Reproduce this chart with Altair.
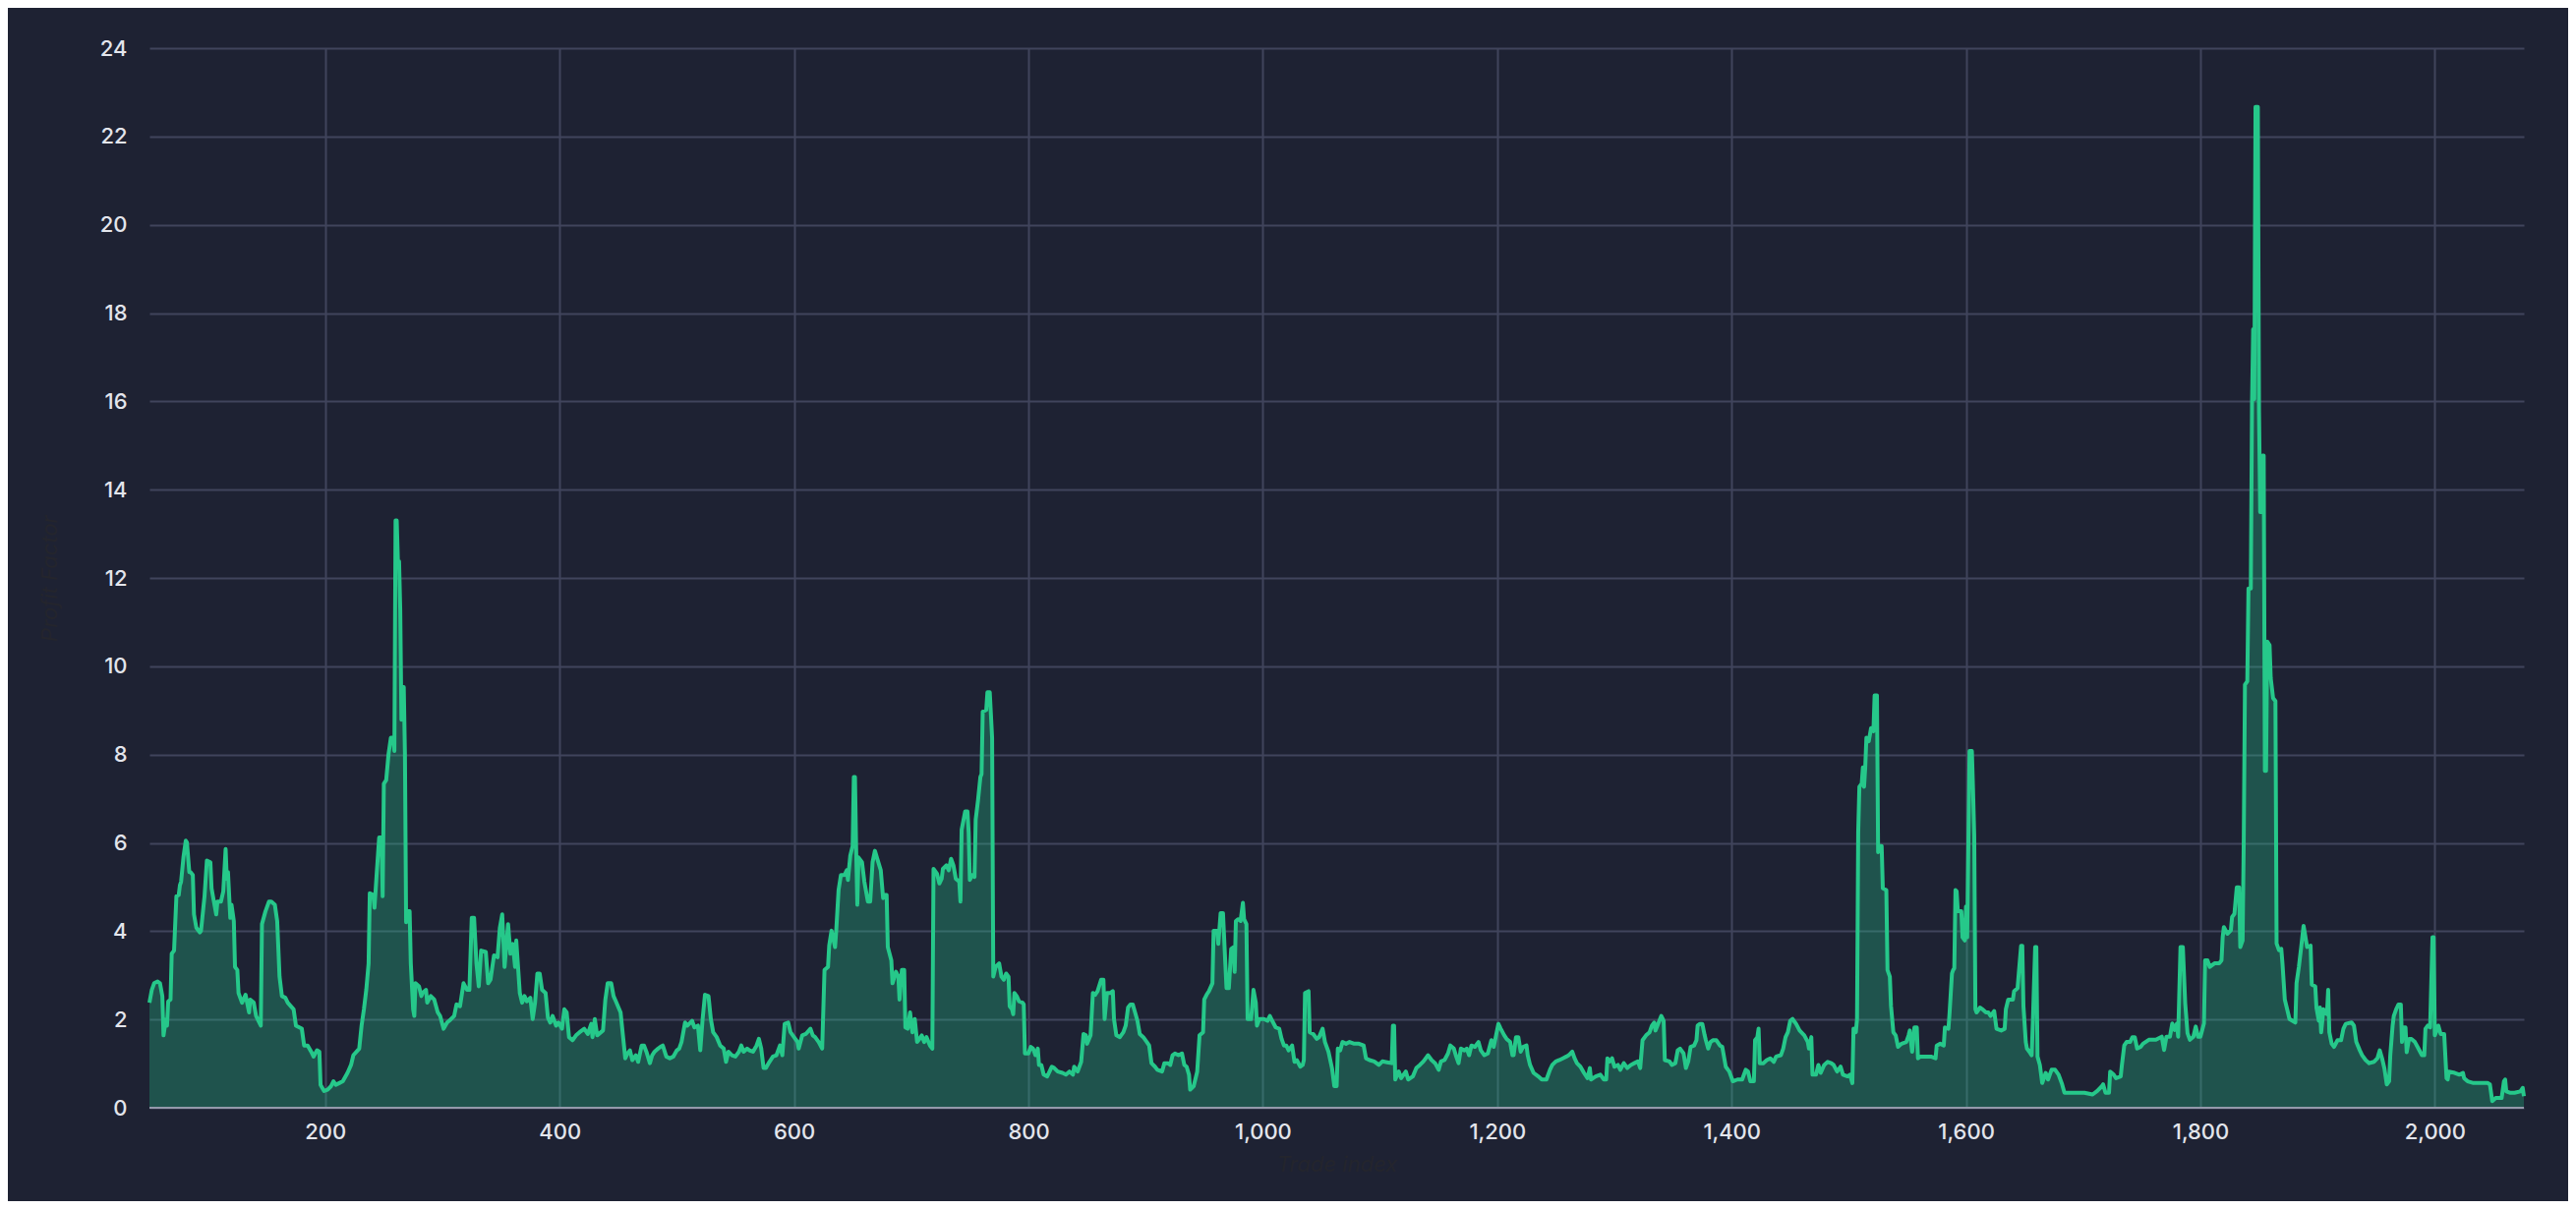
import altair as alt
import pandas as pd

# Trade index (x) and rolling profit factor (y)
trade_index = [
    50, 52, 54, 57, 59, 61, 62, 64, 65, 66, 68, 69, 71, 73, 75, 76, 77, 79, 81, 82,
    84, 85, 87, 88, 90, 93, 94, 96, 97, 99, 102, 103, 105, 107, 108, 111, 113, 115, 116, 117,
    119, 120, 122, 123, 125, 126, 129, 132, 135, 136, 139, 141, 145, 146, 149, 152, 154, 157, 159, 161,
    163, 166, 168, 173, 175, 180, 182, 185, 188, 190, 193, 195, 196, 199, 202, 205, 207, 209, 212, 215,
    219, 222, 224, 229, 231, 233, 235, 237, 238, 241, 242, 244, 246, 248, 249, 250, 252, 254, 256, 258,
    259, 260, 261, 262, 263, 264, 265, 266, 267, 268, 269, 271, 272, 273, 275, 276, 277, 280, 282, 283,
    286, 287, 290, 293, 296, 298, 301, 304, 307, 310, 312, 315, 318, 321, 323,
    325, 327, 329, 331, 333, 337, 339, 341, 344, 347, 349, 351, 353, 356, 358, 360, 362, 363, 366, 368,
    370, 372, 375, 377, 379, 381, 383, 385, 388, 390, 392, 394, 397, 399, 402, 404, 406, 408, 411, 414,
    417, 421, 424, 427, 428, 430, 432, 437, 439, 441, 444, 446, 448, 452, 454, 456, 458, 460, 462, 465,
    467, 470, 472, 474, 477, 479, 481, 484, 486, 488, 491, 494, 497, 500, 502, 504, 507, 509, 513, 515,
    518, 520, 522, 524, 527, 529, 531, 534, 537, 540, 542, 544, 547, 550, 553, 555, 557, 560, 562, 565,
    568, 570, 572, 574, 576, 579, 582, 585, 588, 590, 592, 595, 597, 600, 603, 604, 607, 610, 614, 616,
    618, 621, 624, 626, 629, 630, 632, 635, 636, 638, 640, 643, 645, 646, 648, 650, 651, 652, 653, 654,
    655, 658, 660, 663, 665, 667, 669, 671, 674, 676,
    677, 679, 680, 683, 684, 687, 689, 690, 692, 694, 695, 697, 699, 701, 703, 705, 707, 709, 711, 713,
    716, 718, 719, 722, 724, 726, 727, 730, 732, 734, 736, 738, 741, 742, 743, 746, 748, 749, 750, 752,
    754, 755, 757, 759, 760, 761, 764, 765, 767, 768, 769, 770, 772, 775, 777, 779, 781, 783, 784, 786,
    787, 788, 790, 792, 795, 796, 797, 800, 802, 804, 806, 808, 809, 811, 813, 816, 818, 820, 822, 825,
    829, 832, 835, 838, 839, 842, 845, 847, 849, 850, 853, 855, 857, 859, 862, 864, 865, 867, 870, 872,
    873, 875, 878, 881, 883, 885, 887, 889, 891, 893, 895, 898, 901, 903, 905, 908, 910, 914, 916, 919,
    921, 923, 925, 928, 931, 933, 935, 937, 938, 941, 944, 946, 949, 950, 952, 954, 957, 958, 961, 962,
    964, 966, 968, 969, 971, 973, 975, 976, 977, 979, 981, 983, 984, 986, 987, 990, 992, 994, 995, 997,
    1001, 1004, 1006, 1008, 1011, 1014, 1016, 1018, 1020, 1022, 1025, 1027,
    1029, 1032, 1034, 1035, 1036, 1039, 1040, 1043, 1046, 1048, 1051, 1053, 1056, 1059, 1061, 1063, 1064, 1066, 1068, 1071,
    1074, 1078, 1082, 1086, 1088, 1091, 1095, 1099, 1102, 1106, 1110, 1111, 1112, 1113, 1116, 1118, 1122, 1124, 1128, 1131,
    1134, 1137, 1141, 1144, 1147, 1150, 1152, 1155, 1158, 1160, 1163, 1165, 1167, 1169, 1172, 1174, 1176, 1178, 1181, 1184,
    1186, 1189, 1192, 1195, 1197, 1199, 1201, 1203, 1206, 1208, 1211, 1213, 1214, 1216, 1218, 1220, 1222, 1225, 1226, 1228,
    1231, 1235, 1238, 1242, 1245, 1247, 1250, 1253, 1256, 1259, 1261, 1264, 1266, 1268, 1271, 1274, 1277, 1279, 1280, 1284,
    1288, 1291, 1293, 1294, 1296, 1298, 1300, 1303, 1305, 1308, 1311, 1314, 1317, 1320, 1322, 1324, 1327, 1330, 1332, 1334,
    1335, 1340, 1342, 1343, 1347, 1349, 1352, 1354, 1356, 1359, 1361, 1363, 1365, 1368, 1370, 1371, 1373, 1375, 1377, 1378,
    1380, 1382, 1384, 1387, 1390,
    1392, 1395, 1398, 1401, 1405, 1409, 1412, 1414, 1416, 1419, 1420, 1422, 1423, 1424, 1427, 1430, 1433, 1436, 1438, 1442,
    1444, 1446, 1448, 1450, 1452, 1455, 1458, 1462, 1465, 1466, 1468, 1469, 1472, 1474, 1476, 1479, 1482, 1485, 1487, 1490,
    1493, 1495, 1499, 1501, 1503, 1504, 1506, 1507, 1508, 1509, 1511, 1512, 1513, 1514, 1515, 1517, 1519, 1521, 1522, 1524,
    1525, 1526, 1528, 1529, 1532, 1533, 1535, 1536, 1538, 1540, 1542, 1545, 1549, 1551, 1552, 1554, 1556, 1558, 1559, 1561,
    1566, 1570, 1574, 1575, 1578, 1581, 1582, 1585, 1586, 1588, 1589, 1590, 1591, 1592, 1593, 1596, 1597, 1599, 1600, 1601,
    1603, 1605, 1606, 1607, 1608, 1609, 1612, 1614, 1617, 1619, 1621, 1624, 1626, 1630, 1633, 1634, 1636, 1638, 1640, 1641,
    1644, 1645, 1647, 1648, 1649, 1651, 1652, 1654, 1656, 1657, 1659, 1660, 1661, 1663, 1665, 1668, 1670, 1673, 1676, 1679,
    1682, 1684, 1689, 1694, 1701, 1708, 1712, 1716, 1717, 1719, 1722, 1723, 1726, 1728, 1732, 1733, 1735, 1737, 1740, 1742,
    1744, 1746, 1749, 1751,
    1756, 1762, 1767, 1769, 1771, 1774, 1776, 1778, 1780, 1781, 1783, 1785, 1787, 1789, 1791, 1794, 1796, 1798, 1800, 1803,
    1804, 1806, 1808, 1812, 1816, 1818, 1819, 1820, 1823, 1826, 1827, 1829, 1831, 1833, 1834, 1836, 1837, 1838, 1840, 1841,
    1843, 1844, 1845, 1846, 1847, 1849, 1850, 1851, 1852, 1853, 1854, 1855, 1856, 1857, 1859, 1860, 1862, 1864, 1865, 1867,
    1869, 1870, 1872, 1874, 1876, 1881, 1882, 1884, 1886, 1888, 1889, 1891, 1894, 1895, 1898, 1899, 1901, 1902, 1903, 1905,
    1906, 1908, 1909, 1910, 1912, 1914, 1917, 1920, 1922, 1924, 1929, 1931, 1933, 1936, 1938, 1941, 1944, 1948, 1951, 1953,
    1955, 1957, 1959, 1961, 1962, 1964, 1965, 1967, 1969, 1971, 1972, 1973, 1975, 1976, 1978, 1980, 1983, 1986, 1989, 1991,
    1992, 1994, 1996, 1998, 1999, 2000, 2003, 2005, 2008, 2010, 2011, 2012, 2017, 2021, 2024, 2025, 2028, 2033, 2039, 2045,
    2047, 2049, 2052, 2054, 2057, 2059, 2060, 2061, 2064, 2068, 2073, 2075, 2076,
]

profit_factor = [
    2.38, 2.67, 2.82, 2.86, 2.82, 2.53, 1.64, 2.0, 1.86, 2.41, 2.45, 3.49, 3.56, 4.79, 4.82, 5.04, 5.12, 5.67, 6.05, 6.01,
    5.34, 5.34, 5.27, 4.38, 4.08, 3.97, 4.01, 4.53, 4.79, 5.6, 5.56, 4.97, 4.67, 4.38, 4.67, 4.67, 4.9, 5.86, 5.19, 5.34,
    4.3, 4.6, 4.23, 3.19, 3.12, 2.6, 2.38, 2.56, 2.16, 2.45, 2.38, 2.08, 1.86, 4.16, 4.45, 4.67, 4.67, 4.6, 4.23, 2.97,
    2.53, 2.49, 2.38, 2.23, 1.86, 1.79, 1.41, 1.41, 1.27, 1.16, 1.30, 1.27, 0.52, 0.38, 0.41, 0.49, 0.60, 0.52, 0.56, 0.60,
    0.79, 0.97, 1.19, 1.34, 1.86, 2.23, 2.67, 3.27, 4.86, 4.82, 4.53, 5.34, 6.12, 6.12, 4.79, 7.34, 7.42, 8.01, 8.38, 8.38,
    8.08, 13.3, 13.3, 12.38, 12.38, 11.27, 8.79, 9.53, 9.53, 8.01, 4.2, 4.45, 4.45, 3.27, 2.23, 2.08, 2.82, 2.75, 2.53, 2.6,
    2.67, 2.38, 2.53, 2.45, 2.16, 2.08, 1.79, 1.93, 2.0, 2.08, 2.34, 2.3, 2.82, 2.67, 2.67,
    4.3, 4.3, 3.27, 2.75, 3.56, 3.53, 2.82, 2.9, 3.45, 3.41, 4.08, 4.38, 3.19, 4.16, 3.49, 3.71, 3.19, 3.79, 2.6, 2.38,
    2.53, 2.41, 2.49, 2.01, 2.38, 3.04, 3.04, 2.67, 2.6, 2.04, 1.93, 2.08, 1.86, 1.93, 1.79, 2.23, 2.16, 1.6, 1.53, 1.64,
    1.71, 1.79, 1.67, 1.9, 1.6, 2.01, 1.64, 1.75, 2.45, 2.82, 2.82, 2.53, 2.41, 2.16, 1.64, 1.12, 1.23, 1.3, 1.08, 1.19,
    1.04, 1.41, 1.41, 1.27, 1.01, 1.19, 1.27, 1.34, 1.38, 1.41, 1.16, 1.12, 1.16, 1.3, 1.34, 1.49, 1.93, 1.86, 1.97, 1.82,
    1.86, 1.3, 2.01, 2.56, 2.53, 2.01, 1.71, 1.6, 1.41, 1.34, 1.04, 1.27, 1.19, 1.16, 1.27, 1.41, 1.27, 1.34, 1.3, 1.27,
    1.41, 1.56, 1.34, 0.9, 0.9, 1.04, 1.16, 1.19, 1.41, 1.19, 1.9, 1.93, 1.71, 1.6, 1.49, 1.34, 1.64, 1.67, 1.79, 1.64,
    1.6, 1.49, 1.34, 3.12, 3.19, 3.67, 4.01, 3.64, 4.01, 4.93, 5.27, 5.27, 5.38, 5.16, 5.71, 5.93, 7.49, 7.49, 5.86, 4.6,
    5.67, 5.56, 5.12, 4.67, 4.67, 5.56, 5.82, 5.64, 5.38, 4.75,
    4.82, 4.82, 3.64, 3.34, 2.82, 3.08, 2.97, 2.45, 3.12, 3.12, 1.82, 1.79, 2.16, 1.71, 2.01, 1.49, 1.56, 1.64, 1.49, 1.6,
    1.41, 1.34, 5.41, 5.3, 5.08, 5.19, 5.41, 5.49, 5.38, 5.64, 5.49, 5.19, 5.12, 4.67, 6.3, 6.71, 6.71, 6.23, 5.16, 5.27,
    5.23, 6.53, 6.97, 7.49, 7.56, 8.97, 9.01, 9.41, 9.41, 8.9, 8.38, 2.97, 3.19, 3.27, 2.97, 2.9, 3.04, 2.97, 2.3, 2.23,
    2.12, 2.6, 2.53, 2.41, 2.38, 2.34, 1.23, 1.23, 1.38, 1.34, 1.19, 1.34, 0.97, 0.97, 0.75, 0.71, 0.82, 0.93, 0.9, 0.82,
    0.79, 0.75, 0.82, 0.75, 0.93, 0.82, 1.04, 1.67, 1.64, 1.45, 1.64, 2.6, 2.56, 2.64, 2.9, 2.9, 2.01, 2.6, 2.6, 2.64,
    2.01, 1.64, 1.6, 1.71, 1.86, 2.27, 2.34, 2.34, 2.16, 1.97, 1.67, 1.6, 1.49, 1.41, 1.01, 0.93, 0.86, 0.82, 1.01, 1.01,
    0.97, 1.19, 1.23, 1.19, 1.23, 0.97, 0.93, 0.75, 0.41, 0.49, 0.82, 1.64, 1.71, 2.45, 2.56, 2.64, 2.82, 4.01, 4.01, 3.71,
    4.41, 4.41, 3.27, 2.71, 2.71, 3.6, 3.64, 3.08, 4.23, 4.27, 4.23, 4.64, 4.27, 4.16, 2.01, 2.01, 2.67, 2.38, 1.86, 2.01,
    2.01, 1.97, 2.08, 1.97, 1.82, 1.79, 1.56, 1.41, 1.41, 1.3, 1.41, 1.04,
    1.08, 0.93, 0.97, 1.08, 2.6, 2.64, 1.71, 1.67, 1.56, 1.6, 1.79, 1.49, 1.27, 0.9, 0.49, 0.49, 1.34, 1.3, 1.49, 1.45,
    1.49, 1.45, 1.45, 1.41, 1.12, 1.08, 1.05, 0.97, 1.05, 1.03, 1.01, 1.86, 1.86, 0.64, 0.82, 0.67, 0.82, 0.64, 0.71, 0.9,
    0.97, 1.05, 1.19, 1.08, 1.01, 0.86, 1.05, 1.08, 1.23, 1.41, 1.34, 1.16, 1.01, 1.34, 1.3, 1.34, 1.19, 1.41, 1.38, 1.49,
    1.3, 1.19, 1.23, 1.53, 1.38, 1.64, 1.9, 1.79, 1.64, 1.56, 1.49, 1.19, 1.19, 1.6, 1.6, 1.27, 1.38, 1.41, 1.19, 0.97,
    0.79, 0.71, 0.64, 0.64, 0.86, 0.97, 1.05, 1.08, 1.12, 1.16, 1.19, 1.27, 1.12, 1.01, 0.93, 0.79, 0.67, 0.9, 0.64, 0.71,
    0.75, 0.64, 0.64, 1.12, 1.05, 1.12, 0.93, 0.97, 0.86, 1.01, 0.9, 0.97, 1.01, 1.05, 0.9, 1.53, 1.64, 1.71, 1.86, 1.93,
    1.75, 2.08, 1.97, 1.08, 1.05, 0.97, 1.01, 1.3, 1.34, 1.23, 0.9, 1.05, 1.38, 1.41, 1.53, 1.86, 1.9, 1.9, 1.64, 1.53,
    1.34, 1.49, 1.53, 1.53, 1.41,
    1.38, 0.93, 0.82, 0.6, 0.64, 0.64, 0.86, 0.82, 0.6, 0.6, 1.53, 1.6, 1.79, 1.01, 1.01, 1.08, 1.12, 1.04, 1.16, 1.19,
    1.34, 1.6, 1.71, 1.97, 2.01, 1.9, 1.75, 1.64, 1.49, 1.34, 1.6, 0.75, 0.75, 0.97, 0.79, 0.97, 1.04, 1.01, 0.97, 0.82,
    0.93, 0.75, 0.71, 0.75, 0.56, 1.79, 1.71, 2.01, 6.23, 7.27, 7.34, 7.71, 7.27, 7.71, 8.38, 8.3, 8.6, 8.53, 9.34, 9.34,
    5.79, 5.93, 5.93, 4.97, 4.93, 3.12, 2.97, 2.3, 1.71, 1.64, 1.38, 1.45, 1.49, 1.64, 1.75, 1.27, 1.82, 1.82, 1.12, 1.16,
    1.16, 1.16, 1.12, 1.41, 1.45, 1.41, 1.82, 1.79, 2.16, 3.04, 3.12, 3.16, 4.93, 4.9, 4.45, 4.45, 3.86, 3.79, 4.56, 3.86,
    8.08, 8.08, 7.19, 6.16, 2.23, 2.16, 2.27, 2.23, 2.16, 2.16, 2.08, 2.19, 1.79, 1.75, 1.79, 2.23, 2.45, 2.45, 2.45, 2.64,
    2.71, 3.04, 3.67, 3.67, 2.3, 1.49, 1.34, 1.27, 1.19, 1.93, 3.64, 3.64, 1.16, 0.97, 0.56, 0.79, 0.64, 0.86, 0.86, 0.75,
    0.53, 0.34, 0.34, 0.34, 0.34, 0.3, 0.38, 0.49, 0.53, 0.34, 0.34, 0.82, 0.75, 0.67, 0.71, 0.97, 1.41, 1.49, 1.49, 1.6,
    1.6, 1.34, 1.38, 1.45,
    1.54, 1.54, 1.61, 1.31, 1.61, 1.61, 1.91, 1.76, 1.91, 1.61, 3.64, 3.64, 2.37, 1.69, 1.54, 1.61, 1.84, 1.61, 1.61, 1.91,
    3.34, 3.34, 3.19, 3.27, 3.27, 3.34, 3.87, 4.09, 3.94, 4.02, 4.32, 4.39, 4.99, 4.99, 3.64, 3.79, 6.12, 9.58, 9.66, 11.76,
    11.76, 15.9, 17.63, 16.05, 22.67, 22.67, 15.75, 13.49, 13.49, 14.77, 14.77, 7.63, 7.63, 10.56, 10.48, 9.73, 9.28, 9.21, 3.72, 3.57,
    3.6, 3.27, 2.45, 2.23, 2.01, 1.93, 2.82, 3.19, 3.64, 4.12, 3.97, 3.64, 3.67, 2.79, 2.75, 2.27, 1.97, 2.27, 1.71, 2.23,
    2.16, 2.12, 2.67, 1.71, 1.45, 1.38, 1.53, 1.53, 1.79, 1.9, 1.93, 1.86, 1.49, 1.3, 1.19, 1.08, 1.01, 1.04, 1.12, 1.3,
    1.12, 0.89, 0.53, 0.6, 1.19, 1.86, 2.08, 2.23, 2.34, 2.34, 1.49, 1.82, 1.82, 1.26, 1.56, 1.56, 1.49, 1.34, 1.19, 1.19,
    1.79, 1.86, 1.82, 3.86, 3.86, 1.64, 1.86, 1.67, 1.67, 0.67, 0.64, 0.82, 0.79, 0.75, 0.79, 0.67, 0.6, 0.56, 0.56, 0.56,
    0.53, 0.15, 0.22, 0.22, 0.22, 0.6, 0.64, 0.37, 0.34, 0.34, 0.37, 0.45, 0.26,
]

y_ticks = [0, 2, 4, 6, 8, 10, 12, 14, 16, 18, 20, 22, 24]
x_ticks = [200, 400, 600, 800, 1000, 1200, 1400, 1600, 1800, 2000]
baseline = [0]

df = pd.DataFrame({"trade": trade_index, "pf": profit_factor})

BG = "#1e2233"
GREEN = "#26c88a"
FONT = "Inter"

x_scale = alt.Scale(domain=[min(trade_index), max(trade_index)], nice=False, zero=False)
y_scale = alt.Scale(domain=[min(y_ticks), max(y_ticks)], nice=False)

area = alt.Chart(df).mark_area(
    color=GREEN,
    fillOpacity=0.3,
    interpolate="linear",
    line={"color": GREEN, "strokeWidth": 4, "strokeJoin": "round"},
).encode(
    x=alt.X(
        "trade:Q",
        title="Trade index",
        scale=x_scale,
        axis=alt.Axis(
            values=x_ticks,
            format=",d",
            domain=False,
            ticks=False,
            tickSize=0,
            labelPadding=14,
            titlePadding=12,
        ),
    ),
    y=alt.Y(
        "pf:Q",
        title="Profit Factor",
        scale=y_scale,
        axis=alt.Axis(
            values=y_ticks,
            domain=False,
            ticks=False,
            tickSize=0,
            labelPadding=23,
            titlePadding=39,
        ),
    ),
)

base_rule = alt.Chart(pd.DataFrame({"v": baseline})).mark_rule(
    color="#9499ab", strokeWidth=2
).encode(y=alt.Y("v:Q", scale=y_scale))

chart = (
    alt.layer(area, base_rule)
    .properties(
        width=2415,
        height=1078,
        background=BG,
        padding={"left": 144, "top": 41, "right": 45, "bottom": 95},
        autosize=alt.AutoSizeParams(type="none"),
    )
    .configure_view(stroke=None)
    .configure_axis(
        grid=True,
        gridColor="#40445c",
        gridWidth=2,
        labelFont=FONT,
        labelFontSize=22,
        labelFontWeight=500,
        labelColor="#e3e5ec",
        titleFont=FONT,
        titleFontSize=22,
        titleFontWeight="normal",
        titleFontStyle="italic",
        titleColor="#24252d",
    )
)

chart.save("out.html", embed_options={"renderer": "svg", "actions": False})
